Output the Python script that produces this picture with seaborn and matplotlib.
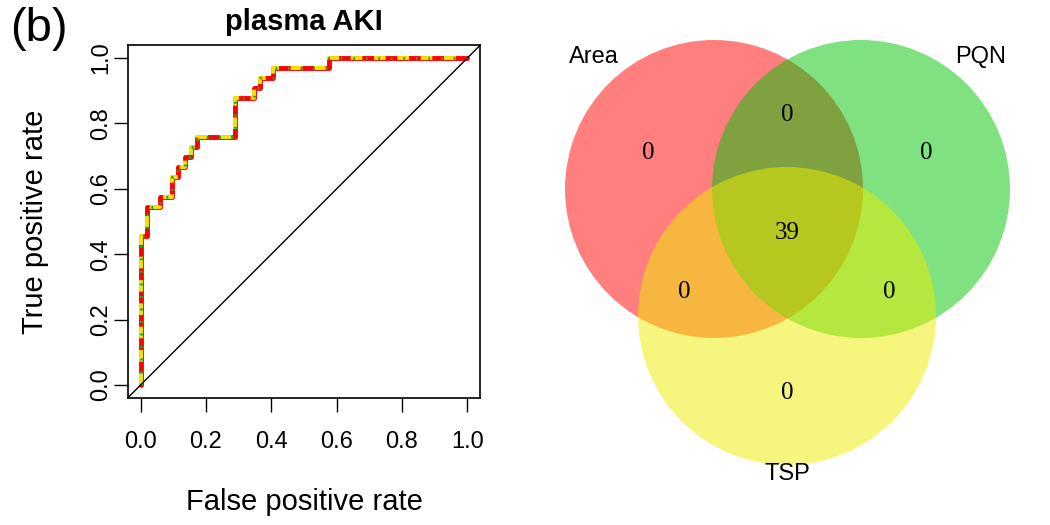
import numpy as np
import pandas as pd
import matplotlib
matplotlib.use("Agg")
import matplotlib.pyplot as plt
import seaborn as sns
from matplotlib.patches import Circle


# ROC curve vertices (upper-left corner of each step), identical for all three methods
fpr = [0, 0, 0.019, 0.058, 0.096, 0.115, 0.135, 0.154, 0.173, 0.288, 0.346, 0.365, 0.404, 0.577, 1.0]
tpr = [0, 0.455, 0.545, 0.576, 0.636, 0.667, 0.697, 0.727, 0.758, 0.879, 0.909, 0.939, 0.970, 1.0, 1.0]
methods = ['Area', 'PQN', 'TSP']

# Venn counts
regions = ['Area', 'PQN', 'TSP', 'Area&PQN', 'Area&TSP', 'PQN&TSP', 'Area&PQN&TSP']
counts = [0, 0, 0, 0, 0, 0, 39]


def main():
    sns.set_style('ticks')
    plt.rcParams['font.family'] = ['Liberation Sans', 'DejaVu Sans']
    plt.rcParams['text.color'] = 'black'
    plt.rcParams['axes.labelcolor'] = 'black'
    plt.rcParams['xtick.color'] = 'black'
    plt.rcParams['ytick.color'] = 'black'

    fig = plt.figure(figsize=(10.5, 5.25), dpi=100)
    draw_roc(fig)
    draw_venn(fig)
    fig.text(10 / 1050, 1 - 29 / 525, '(b)', fontsize=34, va='center', ha='left')

    fig.savefig('out.png', dpi=100)
    plt.close(fig)


def draw_roc(fig):
    ax = fig.add_axes([127.6 / 1050, 1 - 398 / 525, 352.8 / 1050, 353 / 525])

    df = pd.DataFrame({'fpr': fpr * 3, 'tpr': tpr * 3,
                       'method': np.repeat(methods, len(fpr))})

    styles = {'Area': dict(color='#ff0000', lw=3.5, ls='-'),
              'TSP': dict(color='#f2e600', lw=2.8, ls=(0, (3, 3))),
              'PQN': dict(color='#22a822', lw=2.2, ls=(0, (0.6, 3.5)))}
    for m in ['Area', 'TSP', 'PQN']:
        sns.lineplot(data=df[df.method == m], x='fpr', y='tpr', ax=ax,
                     sort=False, estimator=None, drawstyle='steps-post',
                     legend=False, **styles[m])

    ax.axline((0, 0), (1, 1), color='black', lw=1)

    ax.set_xlim(-0.04, 1.04)
    ax.set_ylim(-0.04, 1.04)
    ticks = np.arange(0, 1.01, 0.2)
    ax.set_xticks(ticks)
    ax.set_yticks(ticks)
    ax.set_xticklabels(['{:.1f}'.format(t) for t in ticks])
    ax.set_yticklabels(['{:.1f}'.format(t) for t in ticks], rotation=90, va='center')
    ax.tick_params(axis='both', length=10, width=1, labelsize=17, color='black')
    ax.tick_params(axis='x', pad=14)
    ax.tick_params(axis='y', pad=1)
    for s in ax.spines.values():
        s.set_visible(True)
        s.set_color('black')
        s.set_linewidth(1.2)

    ax.set_xlabel('False positive rate', fontsize=21, labelpad=25)
    ax.set_ylabel('True positive rate', fontsize=21, labelpad=30)
    ax.set_title('plasma AKI', fontsize=21, fontweight='bold', pad=11)


def draw_venn(fig):
    ax = fig.add_axes([530 / 1050, 0, 520 / 1050, 1])
    ax.set_xlim(530, 1050)
    ax.set_ylim(525, 0)
    ax.axis('off')

    r = 149
    centers = {'Area': (714, 189), 'PQN': (861, 189), 'TSP': (787, 316)}
    fills = {'Area': '#ff0000', 'PQN': '#00c400', 'TSP': '#eeee00'}
    for m in methods:
        ax.add_patch(Circle(centers[m], r, facecolor=fills[m], alpha=0.5, lw=0))

    label_pos = {'Area': (594, 57), 'PQN': (981, 57), 'TSP': (787, 474)}
    for m in methods:
        ax.text(*label_pos[m], m, fontsize=17, ha='center', va='center')

    count_pos = {'Area': (648, 153), 'PQN': (926, 153), 'TSP': (787, 393),
                 'Area&PQN': (787, 115), 'Area&TSP': (684, 292),
                 'PQN&TSP': (889, 292), 'Area&PQN&TSP': (787, 233)}
    for reg, n in zip(regions, counts):
        ax.text(*count_pos[reg], str(n), fontsize=18, ha='center', va='center',
                family=['Liberation Serif', 'DejaVu Serif'])


if __name__ == '__main__':
    main()
